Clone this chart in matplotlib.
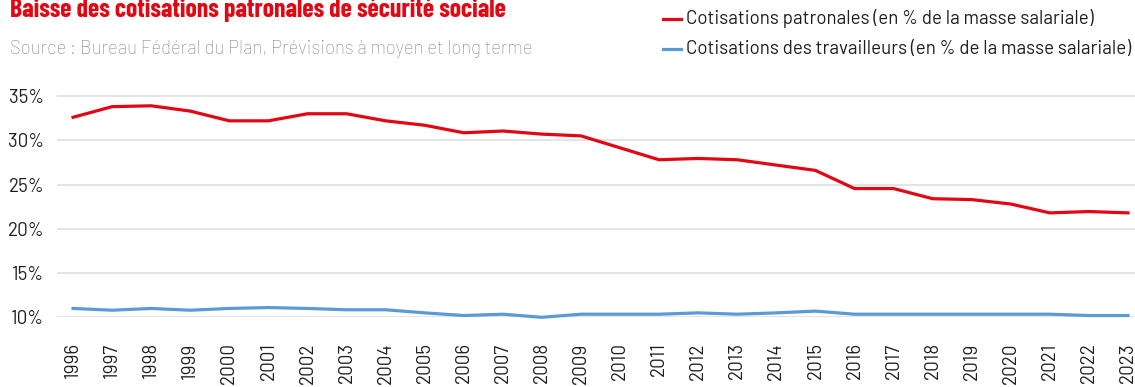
import matplotlib
matplotlib.use("Agg")
import matplotlib.pyplot as plt
from matplotlib.ticker import FuncFormatter

RED = "#E30613"; BLUE = "#5B9BD5"; INK = "#1e1e1e"; GREY = "#888888"; GRID = "#DCDCDC"

years = ["1996", "1997", "1998", "1999", "2000", "2001", "2002", "2003", "2004",
         "2005", "2006", "2007", "2008", "2009", "2010", "2011", "2012", "2013",
         "2014", "2015", "2016", "2017", "2018", "2019", "2020", "2021", "2022", "2023"]
patronales = [32.6, 33.8, 33.9, 33.3, 32.2, 32.2, 33.0, 33.0, 32.2, 31.7, 30.85,
              31.05, 30.7, 30.5, 29.15, 27.8, 27.95, 27.8, 27.2, 26.6, 24.55,
              24.55, 23.4, 23.3, 22.8, 21.8, 21.95, 21.8]
travailleurs = [11.0, 10.8, 11.0, 10.8, 11.0, 11.1, 11.0, 10.85, 10.85, 10.5, 10.2,
                10.35, 10.0, 10.35, 10.35, 10.35, 10.5, 10.35, 10.5, 10.7, 10.35,
                10.35, 10.35, 10.35, 10.35, 10.35, 10.2, 10.2]
yticks = [10, 15, 20, 25, 30, 35]

plt.rcParams["font.family"] = ["Barlow", "DejaVu Sans"]

W, H = 1135, 387
fig = plt.figure(figsize=(W / 100, H / 100), dpi=100)
# axes placed in pixel terms: left 57, right 1135, 36% at y=87, 10% at y=317
ax = fig.add_axes([57 / W, 1 - 317.3 / H, (W - 57) / W, (317.3 - 87.2) / H])

x = list(range(len(years)))
ax.plot(x, patronales, color=RED, lw=2.3, clip_on=False, zorder=3)
ax.plot(x, travailleurs, color=BLUE, lw=2.3, clip_on=False, zorder=3)

ax.set_xlim(-0.41, 27.18)
ax.set_ylim(10, 36)
ax.set_yticks(yticks)
ax.yaxis.set_major_formatter(FuncFormatter(lambda v, p: f"{v:.0f}%"))
ax.set_xticks(x)
ax.set_xticklabels(years, rotation=90, va="top", ha="center")
ax.tick_params(axis="both", length=0, labelsize=13.5, labelcolor=INK)
ax.tick_params(axis="x", pad=18)
ax.tick_params(axis="y", pad=9)
ax.grid(axis="y", color=GRID, lw=1.1)
ax.set_axisbelow(True)
for s in ax.spines.values():
    s.set_visible(False)

fig.text(10 / W, 1 - 17.5 / H, "Baisse des cotisations patronales de sécurité sociale",
         color=RED, fontsize=18.5, fontweight="bold", va="baseline", ha="left",
         family=["Barlow Condensed", "DejaVu Sans"])
fig.text(10 / W, 1 - 49 / H, "Source : Bureau Fédéral du Plan, Prévisions à moyen et long terme",
         color=GREY, fontsize=13.4, fontweight="light", va="center", ha="left")

# legend drawn by hand at the top right
for yy, col, lab in [(19, RED, "Cotisations patronales (en % de la masse salariale)"),
                     (49, BLUE, "Cotisations des travailleurs (en % de la masse salariale)")]:
    fig.add_artist(plt.Line2D([663 / W, 681 / W], [1 - yy / H, 1 - yy / H], color=col, lw=2.3))
    fig.text(686 / W, 1 - yy / H, lab, color=INK, fontsize=13.5, va="center", ha="left")

fig.savefig("out.png", dpi=100)
